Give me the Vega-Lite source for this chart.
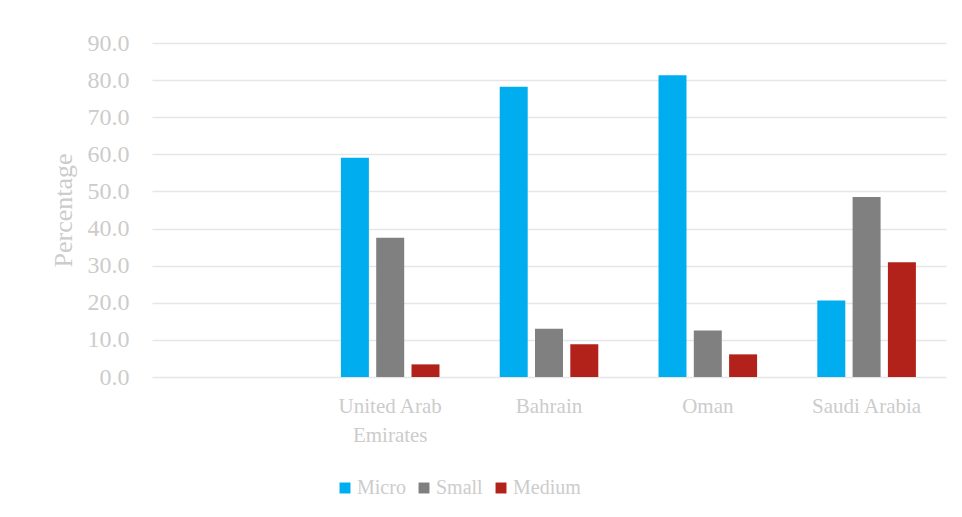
{
  "$schema": "https://vega.github.io/schema/vega-lite/v6.json",
  "width": 794,
  "height": 334,
  "autosize": {"type": "none"},
  "padding": {"left": 152, "top": 43, "right": 16, "bottom": 140},
  "background": "white",
  "config": {
    "view": {"stroke": null},
    "font": "Liberation Serif"
  },
  "data": {
    "values": [
      {"country": "United Arab Emirates", "size": "Micro", "value": 59.1},
      {"country": "United Arab Emirates", "size": "Small", "value": 37.5},
      {"country": "United Arab Emirates", "size": "Medium", "value": 3.4},
      {"country": "Bahrain", "size": "Micro", "value": 78.2},
      {"country": "Bahrain", "size": "Small", "value": 13.0},
      {"country": "Bahrain", "size": "Medium", "value": 8.8},
      {"country": "Oman", "size": "Micro", "value": 81.3},
      {"country": "Oman", "size": "Small", "value": 12.5},
      {"country": "Oman", "size": "Medium", "value": 6.1},
      {"country": "Saudi Arabia", "size": "Micro", "value": 20.6},
      {"country": "Saudi Arabia", "size": "Small", "value": 48.5},
      {"country": "Saudi Arabia", "size": "Medium", "value": 30.9}
    ]
  },
  "mark": {"type": "bar"},
  "encoding": {
    "x": {
      "field": "country",
      "type": "nominal",
      "sort": null,
      "scale": {
        "domain": ["", "United Arab Emirates", "Bahrain", "Oman", "Saudi Arabia"],
        "paddingInner": 0,
        "paddingOuter": 0
      },
      "axis": {
        "title": null,
        "labelAngle": 0,
        "domain": false,
        "ticks": false,
        "grid": false,
        "labelFont": "Liberation Serif",
        "labelFontSize": 21,
        "labelColor": "#cccccc",
        "labelPadding": 18,
        "labelLineHeight": 29,
        "labelBaseline": "top",
        "labelExpr": "datum.value == 'United Arab Emirates' ? ['United Arab', 'Emirates'] : datum.value"
      }
    },
    "xOffset": {
      "field": "size",
      "type": "nominal",
      "sort": ["Micro", "Small", "Medium"],
      "scale": {"paddingInner": 0.207, "paddingOuter": 0.853}
    },
    "y": {
      "field": "value",
      "type": "quantitative",
      "scale": {"domain": [0, 90], "nice": false},
      "axis": {
        "title": "Percentage",
        "titleFont": "Liberation Serif",
        "titleFontSize": 26,
        "titleFontWeight": "normal",
        "titleColor": "#cccccc",
        "titlePadding": 11,
        "values": [0, 10, 20, 30, 40, 50, 60, 70, 80, 90],
        "format": ".1f",
        "domain": false,
        "ticks": false,
        "grid": true,
        "gridColor": "#e6e6e6",
        "gridWidth": 1.5,
        "labelFont": "Liberation Serif",
        "labelFontSize": 24,
        "labelColor": "#cccccc",
        "labelPadding": 23
      }
    },
    "color": {
      "field": "size",
      "type": "nominal",
      "sort": ["Micro", "Small", "Medium"],
      "scale": {
        "domain": ["Micro", "Small", "Medium"],
        "range": ["#00AEEF", "#808080", "#B2221A"]
      },
      "legend": {
        "title": null,
        "orient": "none",
        "direction": "horizontal",
        "legendX": 183,
        "legendY": 435,
        "padding": 0,
        "symbolType": "square",
        "symbolSize": 120,
        "symbolStrokeWidth": 0,
        "labelFont": "Liberation Serif",
        "labelFontSize": 20,
        "labelColor": "#cccccc",
        "labelOffset": 2,
        "columnPadding": 8
      }
    }
  }
}
